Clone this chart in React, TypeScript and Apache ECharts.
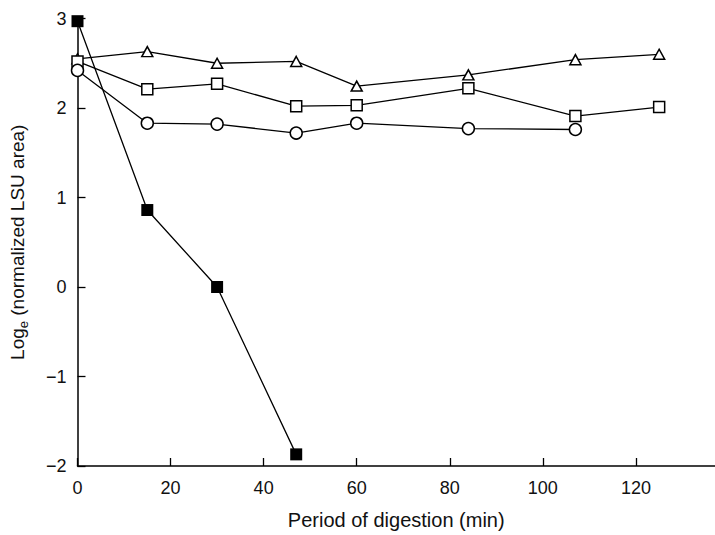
import React, { useEffect, useRef } from "react";
import * as echarts from "echarts";

const times = [0, 15, 30, 47, 60, 84, 107, 125];
const triangleVals = [2.55, 2.63, 2.5, 2.52, 2.245, 2.37, 2.54, 2.6];
const squareVals = [2.52, 2.21, 2.27, 2.02, 2.03, 2.22, 1.91, 2.01];
const circleTimes = [0, 15, 30, 47, 60, 84, 107];
const circleVals = [2.42, 1.83, 1.82, 1.72, 1.83, 1.77, 1.76];
const filledTimes = [0, 15, 30, 47];
const filledVals = [2.97, 0.86, 0.0, -1.87];

const xName = "Period of digestion (min)";
const FONT = "Liberation Sans, Arial, sans-serif";

function pairs(xs: number[], ys: number[]) {
  return xs.map((x, i) => [x, ys[i]]);
}

export default function App() {
  const ref = useRef<HTMLDivElement>(null);
  useEffect(() => {
    if (!ref.current) return;
    document.documentElement.style.overflow = "hidden";
    document.body.style.margin = "0";
    document.body.style.overflow = "hidden";
    const chart = echarts.init(ref.current, null, { renderer: "svg", width: 715, height: 535 });
    const openStyle = { color: "#fff", borderColor: "#000", borderWidth: 1.5 };
    const lineStyle = { color: "#000", width: 1.3 };
    chart.setOption({
      animation: false,
      backgroundColor: "#fff",
      grid: { left: 77, right: 0, top: 18.5, bottom: 69 },
      xAxis: {
        type: "value",
        min: 0,
        max: 137,
        interval: 20,
        name: xName,
        nameLocation: "middle",
        nameGap: 44,
        nameTextStyle: { fontFamily: FONT, fontSize: 20, color: "#111" },
        axisLine: { show: true, onZero: false, lineStyle: { color: "#000", width: 1.5 } },
        axisTick: { show: true, inside: true, length: 8, lineStyle: { color: "#000", width: 1.3 } },
        axisLabel: {
          fontFamily: FONT,
          fontSize: 18,
          color: "#111",
          margin: 13,
          showMaxLabel: false,
          formatter: (v: number) => (v % 20 === 0 ? String(v) : ""),
        },
        splitLine: { show: false },
      },
      yAxis: {
        type: "value",
        min: -2,
        max: 3,
        interval: 1,
        name: "{a|Log}{b|e}{a| (normalized LSU area)}",
        nameLocation: "middle",
        nameGap: 48,
        nameTextStyle: {
          fontFamily: FONT,
          color: "#111",
          rich: {
            a: { fontFamily: FONT, fontSize: 19, color: "#111", lineHeight: 24 },
            b: { fontFamily: FONT, fontSize: 13, color: "#111", verticalAlign: "bottom", lineHeight: 18 },
          },
        },
        axisLine: { show: true, onZero: false, lineStyle: { color: "#000", width: 1.5 } },
        axisTick: { show: true, inside: true, length: 8, lineStyle: { color: "#000", width: 1.3 } },
        axisLabel: {
          fontFamily: FONT,
          fontSize: 18,
          color: "#111",
          margin: 11,
          formatter: (v: number) => (v < 0 ? "\u2212" + Math.abs(v) : String(v)),
        },
        splitLine: { show: false },
      },
      series: [
        {
          type: "line",
          data: pairs(times, triangleVals),
          symbol: "triangle",
          symbolSize: [11, 10],
          showAllSymbol: true,
          itemStyle: openStyle,
          lineStyle,
          z: 2,
        },
        {
          type: "line",
          data: pairs(times, squareVals),
          symbol: "rect",
          symbolSize: 11,
          itemStyle: openStyle,
          lineStyle,
          z: 2,
        },
        {
          type: "line",
          data: pairs(circleTimes, circleVals),
          symbol: "circle",
          symbolSize: 12,
          itemStyle: openStyle,
          lineStyle,
          z: 2,
        },
        {
          type: "line",
          data: pairs(filledTimes, filledVals),
          symbol: "rect",
          symbolSize: 12,
          itemStyle: { color: "#000", borderColor: "#000", borderWidth: 0 },
          lineStyle,
          z: 3,
        },
      ],
    });
    return () => chart.dispose();
  }, []);
  return (
    <div
      ref={ref}
      style={{ position: "absolute", left: 0, top: 0, width: 715, height: 535, overflow: "hidden" }}
    />
  );
}
